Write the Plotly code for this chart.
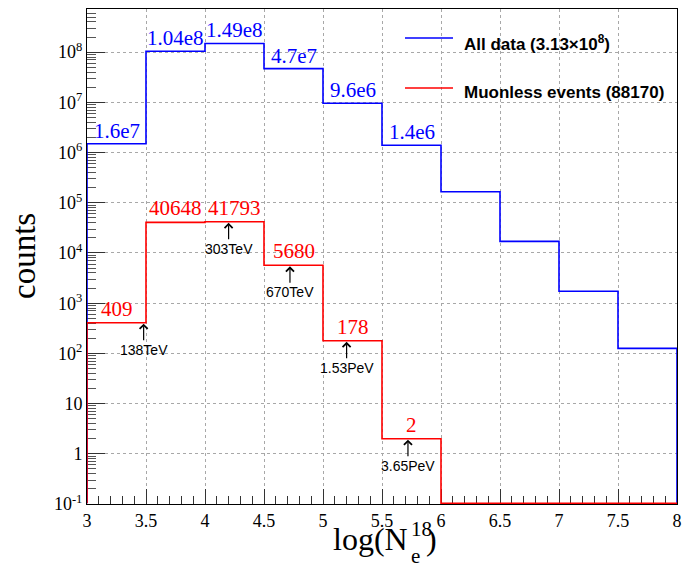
import math
import plotly.graph_objects as go

# ---------------- data ----------------
bin_edges = [3.0, 3.5, 4.0, 4.5, 5.0, 5.5, 6.0, 6.5, 7.0, 7.5, 8.0]
all_counts = [1.5e6, 1.04e8, 1.49e8, 4.7e7, 9.6e6, 1.4e6, 1.66e5, 1.7e4, 1.73e3, 126]
muonless_counts = [409, 40648, 41793, 5680, 178, 2, 0, 0, 0, 0]
all_labels = ["1.6e7", "1.04e8", "1.49e8", "4.7e7", "9.6e6", "1.4e6"]
muonless_labels = ["409", "40648", "41793", "5680", "178", "2"]
energy_x = [3.48, 4.2, 4.72, 5.2, 5.72]
energy_labels = ["138TeV", "303TeV", "670TeV", "1.53PeV", "3.65PeV"]
x_tick_values = [3, 3.5, 4, 4.5, 5, 5.5, 6, 6.5, 7, 7.5, 8]
y_tick_values = [0.1, 1, 10, 1e2, 1e3, 1e4, 1e5, 1e6, 1e7, 1e8]
y_tick_text = ["10<sup>-1</sup>", "1", "10", "10<sup>2</sup>", "10<sup>3</sup>",
               "10<sup>4</sup>", "10<sup>5</sup>", "10<sup>6</sup>", "10<sup>7</sup>",
               "10<sup>8</sup>"]
legend_names = ["All data (3.13×10<sup>8</sup>)", "Muonless events (88170)"]

BLUE = "#0000ff"
RED = "#ff0000"
SERIF = "Liberation Serif"
SANS = "Liberation Sans"

# figure geometry (pixels)
W, H = 682, 567
L, R, T, B = 87, 677, 9, 504
YMIN, YMAX = -1.0, 8.86
FLOOR = 10 ** (YMIN + 0.014)   # empty bins drawn on the bottom edge of the frame


def px2x(px):
    return (px - L) / (R - L)


def py2y(py):
    return (B - py) / (B - T)


def step(edges, counts, floor):
    xs, ys = [edges[0]], [floor]
    for i, c in enumerate(counts):
        v = c if c > 0 else floor
        xs += [edges[i], edges[i + 1]]
        ys += [v, v]
    xs.append(edges[-1])
    ys.append(floor)
    return xs, ys


fig = go.Figure()
bx, by = step(bin_edges, all_counts, FLOOR)
rx, ry = step(bin_edges, muonless_counts, FLOOR)
fig.add_trace(go.Scatter(x=bx, y=by, mode="lines", line=dict(color=BLUE, width=1.6),
                         name=legend_names[0], showlegend=False))
fig.add_trace(go.Scatter(x=rx, y=ry, mode="lines", line=dict(color=RED, width=1.6),
                         name=legend_names[1], showlegend=False))

annotations = []
centers = [(bin_edges[i] + bin_edges[i + 1]) / 2 for i in range(len(bin_edges) - 1)]
for i, t in enumerate(all_labels):
    annotations.append(dict(x=centers[i], y=math.log10(all_counts[i]), xref="x", yref="y",
                            text=t, showarrow=False, xanchor="center", yanchor="bottom",
                            yshift=-1,
                            font=dict(family=SERIF, size=21, color=BLUE)))
for i, t in enumerate(muonless_labels):
    annotations.append(dict(x=centers[i], y=math.log10(muonless_counts[i]), xref="x", yref="y",
                            text=t, showarrow=False, xanchor="center", yanchor="bottom",
                            font=dict(family=SERIF, size=21, color=RED)))
for ex, t in zip(energy_x, energy_labels):
    idx = max(i for i in range(len(bin_edges) - 1) if bin_edges[i] <= ex)
    annotations.append(dict(x=ex, y=math.log10(muonless_counts[idx]), xref="x", yref="y",
                            text=t, showarrow=True, ax=0, ay=27, arrowhead=4,
                            arrowsize=1.3, arrowwidth=1.2, arrowcolor="black", standoff=1,
                            font=dict(family=SANS, size=14, color="black")))

# legend (drawn manually)
shapes = [
    dict(type="rect", xref="paper", yref="paper", x0=px2x(392), x1=px2x(672),
         y0=py2y(112), y1=py2y(10), fillcolor="white", line=dict(width=0), layer="between"),
    dict(type="line", xref="paper", yref="paper", x0=px2x(405), x1=px2x(453),
         y0=py2y(38), y1=py2y(38), line=dict(color=BLUE, width=1.6)),
    dict(type="line", xref="paper", yref="paper", x0=px2x(405), x1=px2x(453),
         y0=py2y(88), y1=py2y(88), line=dict(color=RED, width=1.6)),
]
for name, yy in zip(legend_names, [43, 93]):
    annotations.append(dict(x=px2x(462), y=py2y(yy), xref="paper", yref="paper",
                            text="<b>" + name + "</b>", showarrow=False, xanchor="left",
                            yanchor="middle", font=dict(family=SANS, size=17, color="black")))

# axis titles
annotations.append(dict(x=px2x(24), y=py2y(256), xref="paper", yref="paper", text="counts",
                        textangle=-90, showarrow=False, xanchor="center", yanchor="middle",
                        font=dict(family=SERIF, size=33, color="black")))
annotations.append(dict(x=px2x(410), y=py2y(539), xref="paper", yref="paper", text="log(N",
                        showarrow=False, xanchor="right", yanchor="middle",
                        font=dict(family=SERIF, size=32, color="black")))
annotations.append(dict(x=px2x(409), y=py2y(529), xref="paper", yref="paper", text="18",
                        showarrow=False, xanchor="left", yanchor="middle",
                        font=dict(family=SERIF, size=21, color="black")))
annotations.append(dict(x=px2x(409), y=py2y(556), xref="paper", yref="paper", text="e",
                        showarrow=False, xanchor="left", yanchor="middle",
                        font=dict(family=SERIF, size=21, color="black")))
annotations.append(dict(x=px2x(424), y=py2y(539), xref="paper", yref="paper", text=")",
                        showarrow=False, xanchor="left", yanchor="middle",
                        font=dict(family=SERIF, size=32, color="black")))

minor_y = [m * 10 ** k for k in range(-1, 9) for m in range(2, 10) if m * 10 ** k < 10 ** YMAX]

fig.update_layout(
    width=W, height=H,
    margin=dict(l=L, r=W - R, t=T, b=H - B, pad=0),
    paper_bgcolor="white", plot_bgcolor="white",
    showlegend=False,
    annotations=annotations, shapes=shapes,
    xaxis=dict(range=[3, 8], tickmode="array", tickvals=x_tick_values, automargin=False,
               layer="below traces",
               ticks="inside", ticklen=15, tickwidth=1, tickcolor="#333",
               showline=True, linecolor="black", linewidth=1, mirror=True,
               showgrid=True, gridcolor="#a8a8a8", griddash="dot", gridwidth=1,
               zeroline=False,
               tickfont=dict(family=SERIF, size=18, color="black"),
               minor=dict(dtick=0.1, tick0=3, ticks="inside", ticklen=8, tickwidth=1,
                          tickcolor="#333", showgrid=False)),
    yaxis=dict(type="log", range=[YMIN, YMAX], tickmode="array", tickvals=y_tick_values,
               ticktext=y_tick_text, automargin=False, layer="below traces",
               ticks="inside", ticklen=18, tickwidth=1, tickcolor="#333",
               showline=True, linecolor="black", linewidth=1, mirror=True,
               showgrid=True, gridcolor="#a8a8a8", griddash="dot", gridwidth=1,
               zeroline=False,
               tickfont=dict(family=SERIF, size=18, color="black"),
               minor=dict(tickmode="array", tickvals=minor_y, ticks="inside", ticklen=9,
                          tickwidth=1, tickcolor="#555", showgrid=False)),
)

fig.write_html("out.html")
